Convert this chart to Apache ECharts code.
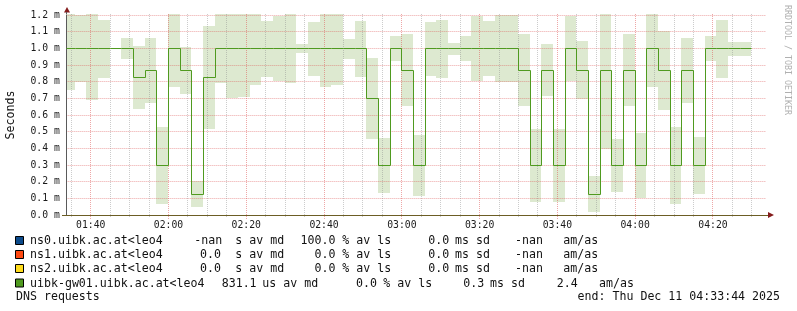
<!DOCTYPE html>
<html><head><meta charset="utf-8">
<script src="https://cdn.jsdelivr.net/npm/echarts@6/dist/echarts.min.js"></script>
<style>html,body{margin:0;padding:0;background:#fff;}#c{width:797px;height:311px;}</style>
</head><body><div id="c"></div>
<script>
// ---- data (minutes since midnight) ----
const startTime = '01:33:44';
const endTime = '04:33:44';
const binStarts = [93,96,99,102,105,108,111,114,117,120,123,126,129,132,135,138,141,144,147,150,
  153,156,159,162,165,168,171,174,177,180,183,186,189,192,195,198,201,204,207,210,
  213,216,219,222,225,228,231,234,237,240,243,246,249,252,255,258,261,264,267];
const medianValues = [1.0,1.0,1.0,1.0,1.0,1.0,0.826,0.868,0.3,1.0,0.868,0.124,0.826,1.0,1.0,1.0,1.0,1.0,1.0,1.0,
  1.0,1.0,1.0,1.0,1.0,1.0,0.7,0.3,1.0,0.868,0.3,1.0,1.0,1.0,1.0,1.0,1.0,1.0,1.0,0.868,
  0.3,0.868,0.3,1.0,0.868,0.124,0.868,0.3,0.868,0.3,1.0,0.868,0.3,0.868,0.3,1.0,1.0,1.0,1.0];
const smokeLow = [0.75,0.795,0.69,0.822,1.0,0.936,0.636,0.67,0.066,0.768,0.728,0.05,0.516,0.79,0.704,0.708,0.782,0.828,0.806,0.79,
  0.974,0.836,0.77,0.782,0.936,0.828,0.456,0.134,0.924,0.654,0.114,0.836,0.822,0.962,0.924,0.806,0.834,0.798,0.798,0.654,
  0.078,0.714,0.078,0.804,0.698,0.018,0.398,0.138,0.654,0.102,0.768,0.63,0.066,0.672,0.126,0.924,0.822,0.954,0.954];
const smokeHigh = [1.205,1.2,1.205,1.17,1.0,1.062,1.014,1.062,0.528,1.206,1.008,0.202,1.134,1.206,1.206,1.206,1.206,1.164,1.194,1.206,
  1.028,1.158,1.206,1.206,1.056,1.164,0.942,0.462,1.074,1.086,0.48,1.158,1.17,1.032,1.074,1.194,1.164,1.2,1.2,1.086,
  0.516,1.026,0.516,1.194,1.044,0.234,1.206,0.456,1.086,0.492,1.206,1.104,0.528,1.062,0.468,1.074,1.17,1.038,1.038];
const majorTicks = [100,120,140,160,180,200,220,240,260];
const majorTickLabels = ['01:40','02:00','02:20','02:40','03:00','03:20','03:40','04:00','04:20'];
const minorTicks = [95,105,110,115,125,130,135,145,150,155,165,170,175,185,190,195,205,210,215,225,230,235,245,250,255,265,270];
const yTickLabels = ['0.0 m','0.1 m','0.2 m','0.3 m','0.4 m','0.5 m','0.6 m','0.7 m','0.8 m','0.9 m','1.0 m','1.1 m','1.2 m'];
const legendNames = ['ns0.uibk.ac.at<leo4','ns1.uibk.ac.at<leo4','ns2.uibk.ac.at<leo4','uibk-gw01.uibk.ac.at<leo4'];
const legendMedian = ['-nan','0.0','0.0','831.1'];
const legendMedianUnit = ['s av md','s av md','s av md','us av md'];
const legendLoss = ['100.0','0.0','0.0','0.0'];
const legendLossUnit = ['% av ls','% av ls','% av ls','% av ls'];
const legendSd = ['0.0','0.0','0.0','0.3'];
const legendSdUnit = ['ms sd','ms sd','ms sd','ms sd'];
const legendAmas = ['-nan','-nan','-nan','2.4'];
const legendAmasUnit = ['am/as','am/as','am/as','am/as'];
const titleText = 'DNS requests';
const endText = 'end: Thu Dec 11 04:33:44 2025';
const yAxisTitle = 'Seconds';
const watermark = 'RRDTOOL / TOBI OETIKER';

// ---- styles ----
const legendColors = ['#0c4a8a','#ff4a12','#ffdc1c','#4f9a1f'];
const lineColor = '#4f9a1f';
const smokeColor = '#dde9d0';
const majorGridColor = 'rgba(222,79,79,0.5)';
const minorGridColor = 'rgba(143,143,143,0.45)';
const mono = '"DejaVu Sans Mono", monospace';

function toMin(s){ const p = s.split(':').map(Number); return p[0]*60 + p[1] + p[2]/60; }
const xMin = toMin(startTime), xMax = toMin(endTime);
const yMin = 0, yMax = 1.2;
const binWidth = binStarts[1] - binStarts[0];

const smokeData = binStarts.map((t,i) => [t, smokeLow[i], smokeHigh[i]]);
const medianData = binStarts.map((t,i) => [t, medianValues[i], i > 0 ? medianValues[i-1] : medianValues[i]]);
const majorData = majorTicks.map((t,i) => [t, 0, i]);
const minorData = minorTicks.map(t => [t, 0]);

const half = v => Math.round(v - 0.5) + 0.5;

function gridRender(color, ext, withLabel){
  return function(params, api){
    const v = api.value(0);
    const pb = api.coord([v, yMin]);
    const pt = api.coord([v, yMax]);
    const x = half(pb[0]);
    const children = [{type:'line', shape:{x1:x, y1:Math.round(pt[1]) - 1, x2:x, y2:Math.round(pb[1]) + ext},
      style:{stroke:color, lineWidth:1, lineDash:[1,1]}}];
    if (withLabel) {
      children.push({type:'text', style:{text:majorTickLabels[params.dataIndex], x:pb[0], y:pb[1] + 10.5,
        align:'center', verticalAlign:'middle', textAlign:'center', textVerticalAlign:'middle',
        font:'9.75px ' + mono, fill:'#1a1a1a'}});
    }
    return {type:'group', children};
  };
}

const option = {
  animation: false,
  backgroundColor: '#ffffff',
  grid: {left: 66.35, right: 30.65, top: 15, bottom: 96, containLabel: false, outerBoundsMode: 'none'},
  xAxis: {type:'value', min:xMin, max:xMax, z:6,
    axisLine:{show:true, lineStyle:{color:'#6c5d24', width:1}},
    axisTick:{show:false}, axisLabel:{show:false}, splitLine:{show:false}},
  yAxis: {type:'value', min:yMin, max:yMax, interval:0.1, z:3,
    name: yAxisTitle, nameLocation:'middle', nameRotate:90, nameGap:49,
    nameTextStyle:{fontFamily:mono, fontSize:11.6, color:'#111'},
    axisLine:{show:true, lineStyle:{color:'#5a5a5a', width:1}},
    axisTick:{show:false},
    axisLabel:{margin:6.5, fontFamily:mono, fontSize:9.75, color:'#1a1a1a',
      formatter: v => yTickLabels[Math.round(v*10)]},
    splitLine:{show:true, lineStyle:{color:majorGridColor, width:1, type:[1,1]}}},
  series: [
    {type:'custom', name:'smoke', z:1, clip:false, silent:true, data: smokeData,
      renderItem: function(params, api){
        const cs = params.coordSys;
        const t = api.value(0);
        const p0 = api.coord([t, api.value(2)]);
        const p1 = api.coord([t + binWidth, api.value(1)]);
        const x0 = Math.floor(Math.max(p0[0], cs.x));
        const x1 = Math.floor(Math.min(p1[0], cs.x + cs.width));
        const y0 = Math.round(p0[1]), y1 = Math.round(p1[1]);
        if (x1 <= x0 || y1 <= y0) return null;
        return {type:'rect', shape:{x:x0, y:y0, width:x1-x0, height:y1-y0}, style:{fill:smokeColor}};
      }},
    {type:'custom', name:'minorGrid', z:3, clip:false, silent:true, data: minorData,
      renderItem: gridRender(minorGridColor, 2, false)},
    {type:'custom', name:'majorGrid', z:3, clip:false, silent:true, data: majorData,
      renderItem: gridRender(majorGridColor, 4, true)},
    {type:'custom', name:'uibk-gw01.uibk.ac.at<leo4', z:5, clip:false, silent:true, data: medianData,
      renderItem: function(params, api){
        const cs = params.coordSys;
        const t = api.value(0);
        const a = api.coord([t, api.value(2)]);
        const b = api.coord([t, api.value(1)]);
        const c = api.coord([t + binWidth, api.value(1)]);
        const xs = half(Math.max(a[0], cs.x + 0.5));
        const xe = half(Math.min(c[0], cs.x + cs.width));
        return {type:'polyline', shape:{points:[[xs, half(a[1])],[xs, half(b[1])],[xe, half(c[1])]]},
          style:{stroke:lineColor, lineWidth:1, fill:null}};
      }}
  ],
  graphic: []
};

// legend / texts
const rowY = [241, 255, 269, 283.5];
const segX = [
  [30,194.3,235.3,300.5,342.3,428.3,455,515,563.3],
  [30,200,235.3,314.5,342.3,428.3,455,515,563.3],
  [30,200,235.3,314.5,342.3,428.3,455,515,563.3],
  [30,221.7,262.3,356,383.3,463.3,490,556.7,599]
];
const g = option.graphic;
const txt = (text, x, y, extra) => Object.assign({type:'text', silent:true, style:Object.assign({text, x, y,
  font:'11.6px ' + mono, fill:'#111', align:'left', verticalAlign:'middle', textAlign:'left', textVerticalAlign:'middle'}, extra || {})});
for (let i = 0; i < 4; i++) {
  g.push({type:'rect', silent:true, shape:{x:15.5, y:rowY[i]-4.5, width:8, height:8},
    style:{fill:legendColors[i], stroke:'#000', lineWidth:1}});
  const parts = [legendNames[i], legendMedian[i], legendMedianUnit[i], legendLoss[i], legendLossUnit[i],
    legendSd[i], legendSdUnit[i], legendAmas[i], legendAmasUnit[i]];
  parts.forEach((p, j) => g.push(txt(p, segX[i][j], rowY[i])));
}
g.push(txt(titleText, 16, 297));
g.push(txt(endText, 780, 297, {align:'right', textAlign:'right'}));
g.push({type:'text', silent:true, x:787, y:60, rotation:-Math.PI/2,
  style:{text:watermark, x:0, y:0, font:'8.3px ' + mono, fill:'#b0b0b0',
    align:'center', verticalAlign:'middle', textAlign:'center', textVerticalAlign:'middle'}});
// axis arrows
g.push({type:'polygon', silent:true, shape:{points:[[64,12.5],[70,12.5],[67,7]]}, style:{fill:'#841c1c'}});
g.push({type:'polygon', silent:true, shape:{points:[[768,212],[768,218],[774,215]]}, style:{fill:'#841c1c'}});
g.push({type:'line', silent:true, shape:{x1:66.5, y1:12, x2:66.5, y2:15}, style:{stroke:'#5a5a5a', lineWidth:1}});
g.push({type:'line', silent:true, shape:{x1:62, y1:215.5, x2:768, y2:215.5}, style:{stroke:'#6c5d24', lineWidth:1}});

const chart = echarts.init(document.getElementById('c'), null, {renderer:'canvas'});
chart.setOption(option);
</script></body></html>
